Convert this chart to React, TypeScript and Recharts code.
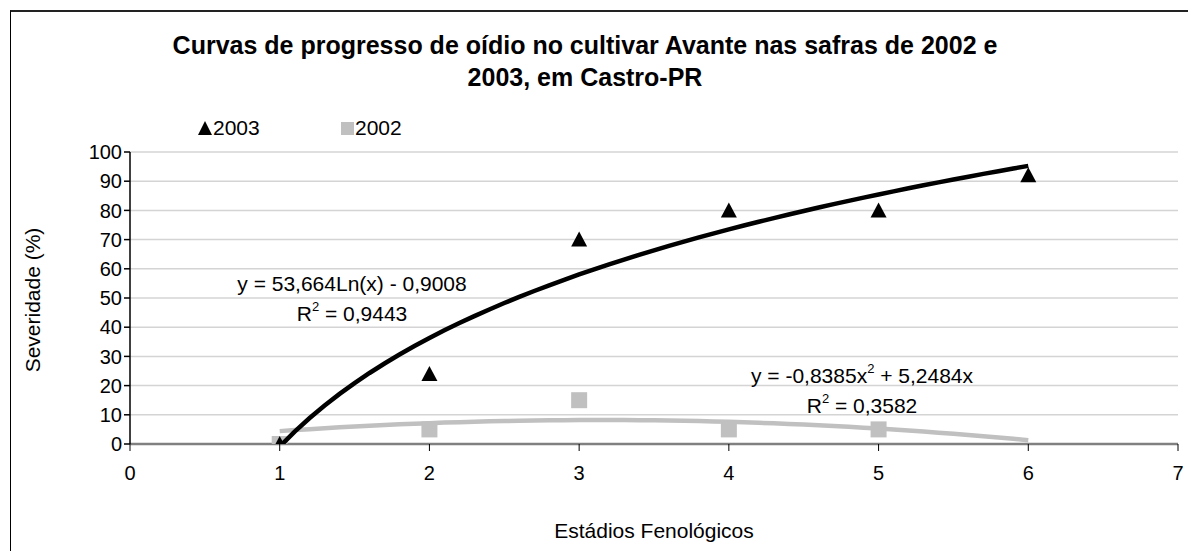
import { ComposedChart, Scatter, XAxis, YAxis, CartesianGrid } from 'recharts';

const stages2003 = [1, 2, 3, 4, 5, 6];
const severity2003 = [0, 24, 70, 80, 80, 92];
const stages2002 = [1, 2, 3, 4, 5];
const severity2002 = [0, 5, 15, 5, 5];

const xTicks = [0, 1, 2, 3, 4, 5, 6, 7];
const yTicks = [0, 10, 20, 30, 40, 50, 60, 70, 80, 90, 100];

// trendline coefficients printed on the chart
const LOG_A = 53.664;
const LOG_B = -0.9008;
const POLY_A = -0.8385;
const POLY_B = 5.2484;

const FONT = '"Liberation Sans", Arial, sans-serif';

const points2003 = stages2003.map((x, i) => ({ x, y: severity2003[i] }));
const points2002 = stages2002.map((x, i) => ({ x, y: severity2002[i] }));

const trendX: number[] = [];
for (let i = 0; i <= 50; i++) trendX.push(1 + (5 * i) / 50);
const trend2003 = trendX.map((x) => ({ x, y: LOG_A * Math.log(x) + LOG_B }));
const trend2002 = trendX.map((x) => ({ x, y: POLY_A * x * x + POLY_B * x }));

const Triangle = (props: any) => {
    const { cx, cy } = props;
    return <polygon points={`${cx},${cy - 8} ${cx - 8},${cy + 7} ${cx + 8},${cy + 7}`} fill="#000" />;
};

const Square = (props: any) => {
    const { cx, cy } = props;
    return <rect x={cx - 8} y={cy - 8} width={16} height={16} fill="#c0c0c0" />;
};

const textStyle = (left: number, top: number, size = 21): any => ({
    position: 'absolute',
    left,
    top,
    transform: 'translate(-50%, -50%)',
    fontFamily: FONT,
    fontSize: size,
    whiteSpace: 'nowrap',
    color: '#000',
    lineHeight: 1,
});

const sup = { fontSize: 13, verticalAlign: 'top', position: 'relative' as const, top: -3 };

export default function App() {
    return (
        <div style={{ position: 'absolute', left: 0, top: 0, width: 1188, height: 551, background: '#fff', overflow: 'hidden' }}>
            <div
                style={{
                    position: 'absolute',
                    left: 10,
                    top: 10,
                    width: 1200,
                    height: 600,
                    borderTop: '2px solid #222',
                    borderLeft: '1px solid #000',
                }}
            />
            {/* title */}
            <div style={{ ...textStyle(585, 45, 25), fontWeight: 'bold' }}>
                Curvas de progresso de oídio no cultivar Avante nas safras de 2002 e
            </div>
            <div style={{ ...textStyle(585, 77, 25), fontWeight: 'bold' }}>2003, em Castro-PR</div>

            {/* legend */}
            <div style={{ position: 'absolute', left: 198, top: 116, display: 'flex', alignItems: 'center', fontFamily: FONT, fontSize: 21 }}>
                <svg width={14} height={14}>
                    <polygon points="7,0 0,14 14,14" fill="#000" />
                </svg>
                <span style={{ marginLeft: 1 }}>2003</span>
            </div>
            <div style={{ position: 'absolute', left: 341, top: 116, display: 'flex', alignItems: 'center', fontFamily: FONT, fontSize: 21 }}>
                <svg width={13} height={13}>
                    <rect x={0} y={0} width={13} height={13} fill="#c0c0c0" />
                </svg>
                <span style={{ marginLeft: 1 }}>2002</span>
            </div>

            <div style={{ position: 'absolute', left: 0, top: 0 }}>
                <ComposedChart width={1188} height={551} margin={{ top: 152, right: 10, bottom: 77, left: 70 }}>
                    <CartesianGrid horizontal vertical={false} stroke="#d4d4d4" strokeWidth={1.5} />
                    <XAxis
                        type="number"
                        dataKey="x"
                        domain={[0, 7]}
                        ticks={xTicks}
                        interval={0}
                        height={30}
                        stroke="#808080"
                        strokeWidth={2.5}
                        tickLine={{ stroke: '#000', strokeWidth: 1 }}
                        tickSize={7}
                        tickMargin={15}
                        tick={{ fill: '#000', fontSize: 20, fontFamily: FONT }}
                        allowDataOverflow
                    />
                    <YAxis
                        type="number"
                        dataKey="y"
                        domain={[0, 100]}
                        ticks={yTicks}
                        interval={0}
                        width={60}
                        stroke="#000"
                        strokeWidth={1.5}
                        tickSize={6}
                        tickMargin={2}
                        tick={{ fill: '#000', fontSize: 20, fontFamily: FONT }}
                        allowDataOverflow
                    />
                    <Scatter name="2002" data={points2002} shape={<Square />} isAnimationActive={false} />
                    <Scatter name="2003" data={points2003} shape={<Triangle />} isAnimationActive={false} />
                    <Scatter
                        name="trend2002"
                        data={trend2002}
                        line={{ stroke: '#c0c0c0', strokeWidth: 4.5 }}
                        lineType="joint"
                        shape={() => null}
                        isAnimationActive={false}
                    />
                    <Scatter
                        name="trend2003"
                        data={trend2003}
                        line={{ stroke: '#000', strokeWidth: 4.5 }}
                        lineType="joint"
                        shape={() => null}
                        isAnimationActive={false}
                    />
                </ComposedChart>
            </div>

            {/* axis titles */}
            <div style={textStyle(654, 530)}>Estádios Fenológicos</div>
            <div style={{ ...textStyle(32, 300), transform: 'translate(-50%, -50%) rotate(-90deg)' }}>Severidade (%)</div>

            {/* trendline equations */}
            <div style={textStyle(352, 283)}>y = 53,664Ln(x) - 0,9008</div>
            <div style={textStyle(352, 313)}>
                R<span style={sup}>2</span> = 0,9443
            </div>
            <div style={textStyle(862, 375)}>
                y = -0,8385x<span style={sup}>2</span> + 5,2484x
            </div>
            <div style={textStyle(862, 405)}>
                R<span style={sup}>2</span> = 0,3582
            </div>
        </div>
    );
}
